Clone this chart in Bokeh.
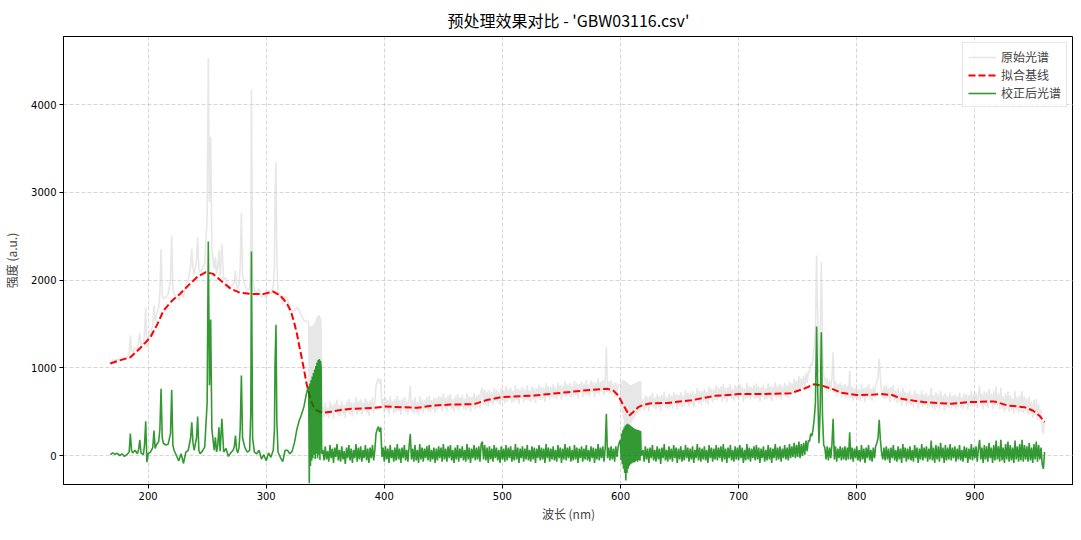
from bokeh.plotting import figure
from bokeh.embed import file_html
from bokeh.resources import INLINE
from bokeh.models import Legend, LegendItem, FixedTicker

TITLE = "预处理效果对比 - 'GBW03116.csv'"
X_LABEL = "波长 (nm)"
Y_LABEL = "强度 (a.u.)"
SERIES_NAMES = ["原始光谱", "拟合基线", "校正后光谱"]
X_TICKS = [200, 300, 400, 500, 600, 700, 800, 900]
Y_TICKS = [0, 1000, 2000, 3000, 4000]

# ---- segment A: 168-335.5 nm (UV lines) ----
wl_a = [
    168, 170, 172, 174, 176, 178, 180, 182, 184, 185, 186, 187, 189, 191, 192, 193, 194, 196, 197, 198,
    199, 200, 202, 204, 205, 206, 207, 209, 210, 211, 212, 213, 215, 217, 219, 220, 221, 222, 224, 226,
    228, 230, 232, 234, 236, 237, 238, 239, 240, 241, 242, 243, 244, 246, 248, 250, 251, 252, 253, 254,
    256, 257, 258, 259, 260, 261, 262.5, 264, 266, 268, 270, 272, 273, 274, 275, 276, 277, 278, 279, 280,
    282, 284, 286, 287, 287.5, 288.5, 290, 292, 294, 296, 298, 300, 302, 304, 306, 307, 307.5, 308.3, 309, 310,
    312, 314, 316, 318, 320, 322, 324, 326, 328, 330, 332, 334, 335.5,
]
raw_a = [
    1058, 1087, 1081, 1100, 1083, 1112, 1090, 1118, 1156, 1370, 1192, 1175, 1230, 1215, 1277, 1400, 1265, 1275, 1400, 1686,
    1234, 1345, 1388, 1488, 1710, 1530, 1595, 1690, 1860, 2350, 1820, 1790, 1800, 1843, 1995, 2509, 1892, 1843, 1807, 1770,
    1875, 1800, 1950, 1995, 2163, 2356, 2139, 2062, 2145, 2227, 2484, 2113, 2086, 2130, 2187, 2690, 4530, 2887, 3633, 2380,
    2120, 2257, 2076, 2145, 2336, 2050, 2405, 2008, 2025, 1912, 1930, 1949, 1983, 2106, 1932, 1896, 1951, 2155, 2765, 2051,
    1938, 1886, 1903, 2342, 4167, 2042, 1882, 1862, 1902, 1802, 1852, 1787, 1885, 1843, 1929, 2161, 2910, 3343, 2246, 1878,
    1803, 1725, 1820, 1780, 1690, 1640, 1650, 1690, 1650, 1590, 1540, 1530, 1530,
]
corr_a = [
    10, 30, 15, 25, 0, 20, -10, 10, 40, 250, 60, 30, 60, 20, 70, 180, 30, 10, 120, 391,
    -76, 20, 40, 90, 285, 80, 120, 160, 300, 760, 200, 140, 120, 130, 250, 749, 120, 60, 0, -60,
    20, -90, 40, 60, 200, 380, 150, 60, 130, 200, 444, 60, 20, 50, 100, 600, 2440, 800, 1550, 300,
    60, 209, 40, 120, 323, 50, 420, 40, 80, -10, 30, 60, 100, 228, 60, 30, 90, 300, 912, 200,
    90, 40, 60, 500, 2325, 200, 40, 20, 60, -40, 10, -60, 30, -20, 60, 300, 1050, 1490, 400, 40,
    -20, -70, 60, 60, 20, 50, 150, 300, 400, 470, 560, 700, 780,
]

# ---- segment B: 336-347 nm (dense oscillation) ----
wl_b = [336, 336.5, 337, 337.5, 338, 338.5, 339, 339.5, 340, 340.5, 341, 341.5, 342, 342.5, 343, 343.5,
        344, 344.5, 345, 345.5, 346, 346.5, 347]
raw_b = [1500, 375, 1480, 515, 1470, 530, 1475, 540, 1490, 560, 1510, 490, 1540, 537, 1573, 480,
         1595, 513, 1598, 445, 1572, 1490, 507]
corr_b = [780, -315, 820, -120, 860, -60, 900, -30, 940, 10, 980, -40, 1020, 20, 1060, -30,
          1090, 10, 1100, -50, 1080, 1000, 20]

# ---- segment C: 348-599 nm, 1 nm steps ----
wl_c = list(range(348, 600))
raw_c = [
    554, 436,
    597, 449, 545, 427, 618, 470, 581, 418, 594, 491,
    638, 455, 578, 445, 622, 475, 571, 427, 613, 494,
    647, 473, 610, 447, 597, 503, 663, 464, 624, 490,
    641, 466, 602, 507, 658, 483, 619, 454, 630, 510,
    661, 487, 608, 795, 847, 878, 820, 872, 539, 646,
    488, 663, 512, 637, 471, 676, 525, 620, 484, 644,
    498, 683, 507, 632, 466, 641, 520, 670, 494, 614,
    478, 653, 794, 502, 626, 476, 665, 490, 609, 460,
    677, 504, 641, 483, 635, 527, 664, 506, 683, 495,
    632, 524, 660, 487, 654, 520, 681, 547, 668, 508,
    709, 534, 660, 510, 686, 551, 701, 527, 647, 497,
    672, 537, 703, 513, 663, 553, 689, 529, 649, 514,
    714, 539, 674, 500, 665, 555, 705, 531, 677, 545,
    700, 530, 735, 772, 575, 748, 579, 726, 553, 745,
    598, 725, 578, 770, 623, 745, 603, 725, 578, 770,
    621, 746, 597, 788, 613, 759, 640, 775, 601, 737,
    617, 803, 629, 764, 590, 756, 646, 782, 608, 758,
    634, 800, 625, 746, 612, 787, 638, 774, 600, 766,
    658, 809, 635, 782, 648, 775, 611, 827, 669, 790,
    632, 783, 659, 811, 652, 773, 640, 831, 682, 804,
    630, 796, 673, 849, 665, 812, 693, 830, 656, 792,
    674, 850, 686, 823, 649, 815, 707, 843, 669, 821,
    697, 863, 690, 811, 677, 854, 720, 841, 666, 832,
    708, 883, 699, 845, 725, 861, 687, 837, 1233, 730,
    847, 700, 857, 704, 825, 670, 835, 700, 800, 810,
]
corr_c = [
    65, -55,
    105, -45, 50, -70, 120, -30, 80, -85, 90, -15,
    130, -55, 65, -70, 105, -45, 50, -95, 90, -30,
    120, -55, 80, -85, 65, -30, 130, -70, 90, -45,
    105, -70, 65, -30, 120, -55, 80, -85, 90, -30,
    120, -55, 65, 250, 300, 330, 270, 320, -15, 90,
    -70, 105, -45, 80, -85, 120, -30, 65, -70, 90,
    -55, 130, -45, 80, -85, 90, -30, 120, -55, 65,
    -70, 105, 247, -45, 80, -70, 120, -55, 65, -85,
    130, -45, 90, -70, 80, -30, 105, -55, 120, -70,
    65, -45, 90, -85, 80, -55, 105, -30, 90, -70,
    130, -45, 80, -70, 105, -30, 120, -55, 65, -85,
    90, -45, 120, -70, 80, -30, 105, -55, 65, -70,
    130, -45, 90, -85, 80, -30, 120, -55, 90, -45,
    105, -70, 130, 160, -45, 120, -55, 90, -85, 105,
    -45, 80, -70, 120, -30, 90, -55, 65, -85, 105,
    -45, 80, -70, 120, -55, 90, -30, 105, -70, 65,
    -55, 130, -45, 90, -85, 80, -30, 105, -70, 80,
    -45, 120, -55, 65, -70, 105, -45, 90, -85, 80,
    -30, 120, -55, 90, -45, 80, -85, 130, -30, 90,
    -70, 80, -45, 105, -55, 65, -70, 120, -30, 90,
    -85, 80, -45, 130, -55, 90, -30, 105, -70, 65,
    -55, 120, -45, 90, -85, 80, -30, 105, -70, 80,
    -45, 120, -55, 65, -70, 105, -30, 90, -85, 80,
    -45, 130, -55, 90, -30, 105, -70, 80, 475, -30,
    90, -55, 105, -45, 80, -70, 105, -15, 100, 150,
]

# ---- segment D: 600-617.5 nm (dense oscillation) ----
wl_d = [600, 600.5, 601, 601.5, 602, 602.5, 603, 603.5, 604, 604.5, 605, 605.5, 606, 606.5, 607, 607.5,
        608, 608.5, 609, 609.5, 610, 610.5, 611, 611.5, 612, 612.5, 613, 613.5, 614, 614.5, 615, 615.5,
        616, 616.5, 617, 617.5]
raw_d = [800, 555, 840, 485, 860, 415, 860, 335, 850, 300, 840, 265, 826, 310, 811, 336,
         805, 362, 805, 385, 810, 412, 815, 427, 820, 452, 830, 475, 835, 475, 841, 505,
         845, 504, 848, 571]
corr_d = [180, -50, 250, -100, 290, -150, 320, -200, 340, -285, 355, -200, 361, -150, 355, -120,
          345, -100, 335, -90, 325, -80, 315, -80, 305, -70, 300, -60, 295, -70, 290, -50,
          285, -60, 280, 0]

# ---- segment E: 618-959 nm, 1 nm steps ----
wl_e = list(range(618, 960))
raw_e = [
    582, 640,
    510, 687, 540, 668, 506, 684, 565, 716, 541, 662,
    527, 702, 552, 678, 503, 689, 569, 729, 545, 665,
    530, 706, 558, 684, 536, 727, 579, 700, 527, 693,
    570, 721, 548, 684, 566, 742, 594, 715, 557, 708,
    585, 737, 550, 702, 610, 772, 590, 737, 580, 732,
    610, 762, 605, 727, 580, 787, 640, 762, 605, 757,
    635, 801, 627, 773, 654, 790, 616, 817, 643, 769,
    605, 781, 662, 813, 639, 760, 626, 802, 653, 789,
    645, 820, 670, 790, 615, 765, 645, 830, 655, 790,
    630, 780, 670, 805, 645, 820, 655, 790, 615, 780,
    670, 805, 630, 766, 646, 822, 657, 793, 618, 784,
    674, 835, 650, 796, 661, 812, 637, 788, 678, 829,
    664, 799, 655, 840, 684, 824, 708, 873, 702, 857,
    726, 906, 720, 885, 752, 905, 776, 942, 827, 953,
    949, 1045, 1021, 1106, 1232, 1410, 2278, 1506, 944, 1301,
    2203, 1244, 910, 876, 737, 883, 718, 859, 735, 891,
    1177, 707, 852, 673, 818, 702, 831, 660, 804, 667,
    814, 652, 795, 658, 967, 654, 787, 625, 773, 662,
    795, 635, 756, 621, 811, 647, 772, 608, 783, 663,
    813, 639, 759, 624, 785, 665, 801, 836, 898, 1106,
    880, 735, 655, 789, 643, 802, 651, 774, 608, 782,
    660, 805, 625, 739, 598, 768, 612, 732, 561, 774,
    612, 730, 568, 716, 589, 737, 575, 693, 557, 745,
    593, 711, 534, 697, 570, 742, 555, 698, 577, 712,
    536, 685, 559, 773, 547, 691, 515, 719, 553, 703,
    527, 741, 565, 684, 508, 712, 536, 681, 545, 720,
    534, 680, 562, 698, 524, 676, 552, 719, 545, 666,
    533, 709, 576, 697, 523, 688, 564, 739, 555, 700,
    581, 716, 541, 692, 792, 568, 703, 529, 734, 569,
    720, 545, 761, 586, 706, 532, 737, 562, 783, 564,
    706, 527, 774, 535, 676, 497, 708, 529, 730, 499,
    687, 511, 655, 478, 732, 516, 664, 488, 687, 500,
    734, 482, 671, 504, 645, 465, 674, 469, 608, 428,
    635, 450, 645, 405, 585, 405, 520, 315, 248, 420,
]
corr_e = [
    10, 65,
    -70, 105, -45, 80, -85, 90, -30, 120, -55, 65,
    -70, 105, -45, 80, -95, 90, -30, 130, -55, 65,
    -70, 105, -45, 80, -70, 120, -30, 90, -85, 80,
    -45, 105, -70, 65, -55, 120, -30, 90, -70, 80,
    -45, 105, -85, 65, -30, 130, -55, 90, -70, 80,
    -45, 105, -55, 65, -85, 120, -30, 90, -70, 80,
    -45, 120, -55, 90, -30, 105, -70, 130, -45, 80,
    -85, 90, -30, 120, -55, 65, -70, 105, -45, 90,
    -55, 120, -30, 90, -85, 65, -55, 130, -45, 90,
    -70, 80, -30, 105, -55, 120, -45, 90, -85, 80,
    -30, 105, -70, 65, -55, 120, -45, 90, -85, 80,
    -30, 130, -55, 90, -45, 105, -70, 80, -30, 120,
    -45, 90, -55, 130, -30, 105, -15, 145, -30, 120,
    -15, 160, -30, 130, -5, 145, 10, 170, 50, 170,
    160, 250, 220, 300, 420, 600, 1470, 700, 140, 500,
    1405, 450, 120, 90, -45, 105, -55, 90, -30, 130,
    420, -45, 105, -70, 80, -30, 105, -55, 90, -45,
    105, -55, 90, -45, 266, -45, 90, -70, 80, -30,
    105, -55, 65, -70, 120, -45, 80, -85, 90, -30,
    120, -55, 65, -70, 90, -30, 105, 140, 200, 407,
    180, 35, -45, 90, -55, 105, -45, 80, -85, 90,
    -30, 120, -55, 65, -70, 105, -45, 80, -85, 130,
    -30, 90, -70, 80, -45, 105, -55, 65, -70, 120,
    -30, 90, -85, 80, -45, 130, -55, 90, -30, 105,
    -70, 80, -45, 170, -55, 90, -85, 120, -45, 105,
    -70, 145, -30, 90, -85, 120, -55, 90, -45, 130,
    -55, 90, -30, 105, -70, 80, -45, 120, -55, 65,
    -70, 105, -30, 90, -85, 80, -45, 130, -55, 90,
    -30, 105, -70, 80, 180, -45, 90, -85, 120, -45,
    105, -70, 145, -30, 90, -85, 120, -55, 170, -45,
    105, -70, 180, -55, 90, -85, 130, -45, 160, -70,
    120, -55, 90, -85, 170, -45, 105, -70, 130, -55,
    180, -70, 120, -45, 105, -70, 145, -55, 90, -85,
    130, -45, 160, -70, 120, -45, 90, -100, -152, 40,
]

wavelength = wl_a + wl_b + wl_c + wl_d + wl_e
raw_intensity = raw_a + raw_b + raw_c + raw_d + raw_e
corrected = corr_a + corr_b + corr_c + corr_d + corr_e

# fitted baseline (smooth curve)
baseline_wl = [
    168, 175, 185, 193, 202, 208, 213, 220, 227, 235, 242, 249, 255, 262, 270, 278, 287, 298, 306, 312,
    316, 318, 321, 324, 326, 328, 330, 332, 334, 336, 338, 340, 343, 347.6, 355, 363, 372, 391, 400, 428,
    442, 456, 476, 487, 499, 527, 555, 575, 589, 594, 598, 603, 607.5, 611, 615, 620, 626, 640, 660, 680,
    700, 720, 744, 755, 764, 770, 779, 787, 800, 815, 821, 830, 838, 857, 880, 894, 916, 928, 942, 949,
    955, 959,
]
baseline = [
    1048, 1080, 1120, 1220, 1348, 1500, 1650, 1760, 1842, 1950, 2040, 2090, 2070, 1990, 1900, 1855, 1842, 1842, 1869, 1823,
    1760, 1720, 1640, 1500, 1390, 1250, 1120, 980, 830, 720, 620, 560, 513, 486, 500, 520, 532, 543, 558, 544,
    570, 581, 585, 634, 665, 684, 722, 749, 760, 740, 684, 560, 456, 500, 551, 580, 596, 600, 630, 680,
    700, 700, 710, 760, 812, 798, 760, 715, 690, 695, 700, 690, 646, 608, 589, 608, 617, 570, 551, 513,
    450, 380,
]

CJK = "Noto Sans CJK SC"
LATIN = "DejaVu Sans"

p = figure(
    width=1073, height=524,
    x_range=(128.4, 983.5), y_range=(-330, 4775),
    output_backend="svg", toolbar_location=None,
    title=TITLE,
    min_border_left=55, min_border_right=0, min_border_top=0, min_border_bottom=0,
)
p.background_fill_color = "white"
p.border_fill_color = "white"
p.outline_line_color = "black"
p.outline_line_width = 1

p.title.text_font = CJK
p.title.text_font_size = "16px"
p.title.text_font_style = "normal"
p.title.align = "center"
p.title.text_color = "black"

r_raw = p.line(wavelength, raw_intensity, line_color="lightgray", line_alpha=0.55, line_width=1.6)
r_base = p.line(baseline_wl, baseline, line_color="red", line_width=2, line_dash="7 3")
r_corr = p.line(wavelength, corrected, line_color="green", line_alpha=0.8, line_width=1.6)

for ax in (p.xaxis[0], p.yaxis[0]):
    ax.axis_label_text_font = CJK
    ax.axis_label_text_font_size = "12px"
    ax.axis_label_text_font_style = "normal"
    ax.major_label_text_font = LATIN
    ax.major_label_text_font_size = "10px"
    ax.major_label_text_color = "black"
    ax.axis_line_color = "black"
    ax.major_tick_line_color = "black"
    ax.major_tick_in = 0
    ax.major_tick_out = 4
    ax.minor_tick_line_color = None

p.xaxis.axis_label = X_LABEL
p.yaxis.axis_label = Y_LABEL
p.xaxis.ticker = FixedTicker(ticks=X_TICKS)
p.yaxis.ticker = FixedTicker(ticks=Y_TICKS)
p.xaxis.major_label_standoff = 3
p.yaxis.major_label_standoff = 3
p.xaxis.axis_label_standoff = 2
p.yaxis.axis_label_standoff = 8

p.xgrid.ticker = FixedTicker(ticks=X_TICKS)
p.ygrid.ticker = FixedTicker(ticks=Y_TICKS)
for g in (p.xgrid[0], p.ygrid[0]):
    g.grid_line_color = "#b0b0b0"
    g.grid_line_alpha = 0.5
    g.grid_line_dash = "4 2"
    g.grid_line_width = 1

legend = Legend(items=[
    LegendItem(label=SERIES_NAMES[0], renderers=[r_raw]),
    LegendItem(label=SERIES_NAMES[1], renderers=[r_base]),
    LegendItem(label=SERIES_NAMES[2], renderers=[r_corr]),
], location="top_right")
legend.label_text_font = CJK
legend.label_text_font_size = "12px"
legend.border_line_color = "#cccccc"
legend.background_fill_alpha = 0.8
legend.glyph_width = 28
legend.spacing = 1
legend.padding = 5
legend.margin = 6
legend.label_height = 16
legend.glyph_height = 16
p.add_layout(legend)

open("out.html", "w").write(file_html(p, INLINE))
